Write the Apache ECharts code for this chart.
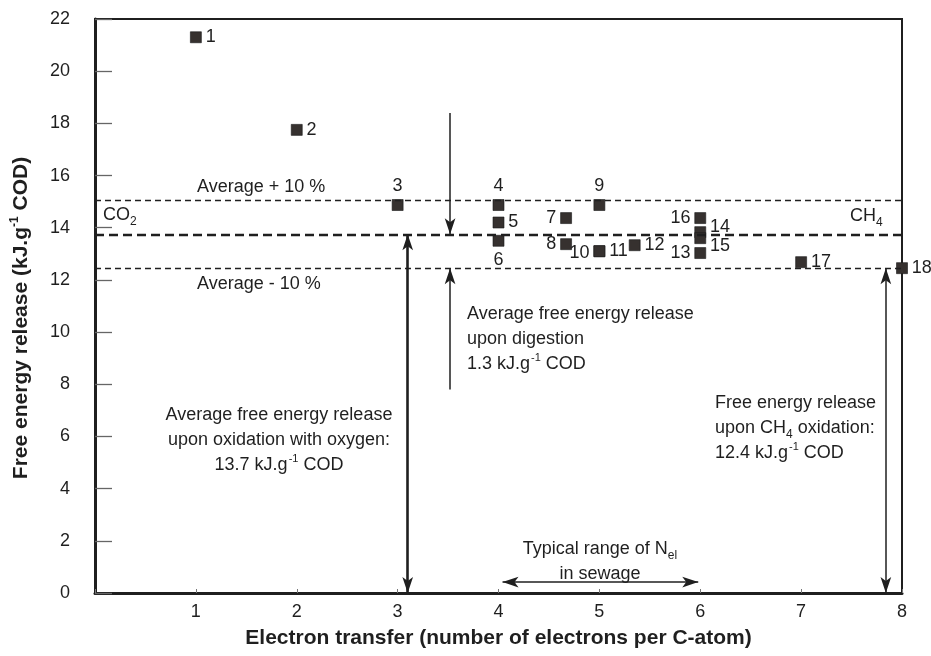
<!DOCTYPE html>
<html>
<head>
<meta charset="utf-8">
<title>Free energy release vs electron transfer</title>
<script src="https://cdn.jsdelivr.net/npm/echarts@6/dist/echarts.min.js"></script>
<style>
  html, body { margin: 0; padding: 0; background: #fff; }
  #chart { width: 931px; height: 656px; }
</style>
</head>
<body>
<div id="chart"></div>
<script>
// compounds, numbered as in the picture
const pointIds = [1, 2, 3, 4, 5, 6, 7, 8, 9, 10, 11, 12, 13, 14, 15, 16, 17, 18];
const electrons = [1, 2, 3, 4, 4, 4, 4.67, 4.67, 5, 5, 5, 5.35, 6, 6, 6, 6, 7, 8];
const energy = [21.3, 17.75, 14.87, 14.87, 14.2, 13.5, 14.37, 13.37, 14.87, 13.1, 13.1, 13.33, 13.03, 13.83, 13.6, 14.37, 12.68, 12.45];

const xTicks = [0, 1, 2, 3, 4, 5, 6, 7, 8];
const yTicks = [0, 2, 4, 6, 8, 10, 12, 14, 16, 18, 20, 22];

// reference levels (kJ/g COD)
const avgLevel = 13.75;
const upperLevel = 15.07;
const lowerLevel = 12.45;

// where each number sits next to its square
const labelSide = {
  1: 'right', 2: 'right', 3: 'top', 4: 'top', 5: 'right', 6: 'bottom',
  7: 'left', 8: 'left', 9: 'top', 10: 'left', 11: 'right', 12: 'right',
  13: 'left', 14: 'right', 15: 'right', 16: 'left', 17: 'right', 18: 'right'
};
const labelShift = { 14: [0, -5], 15: [0, 8], 10: [0, 2] };

const FONT = '"Liberation Sans", Arial, sans-serif';
const INK = '#1f1f1f';

const points = pointIds.map((id, i) => ({
  value: [electrons[i], energy[i]],
  label: {
    position: labelSide[id],
    offset: labelShift[id] || [0, 0]
  }
}));

const arrowHead = [8, 16];
const thin = { color: INK, width: 1.5, type: 'solid' };
const thick = { color: INK, width: 2.6, type: 'solid' };

function arrow(from, to, s1, s2, style) {
  return [
    { coord: from, symbol: s1, symbolSize: arrowHead, lineStyle: style },
    { coord: to, symbol: s2, symbolSize: arrowHead, lineStyle: style }
  ];
}

const rich = {
  t: { fontSize: 18, fontFamily: FONT, color: INK, lineHeight: 25 },
  sup: { fontSize: 11, fontFamily: FONT, color: INK, verticalAlign: 'top', lineHeight: 25, padding: [0, 0, 0, 1] },
  sub: { fontSize: 12, fontFamily: FONT, color: INK, verticalAlign: 'bottom', lineHeight: 20 }
};

function note(x, y, text, align) {
  return {
    type: 'text',
    x: x,
    y: y,
    silent: true,
    style: {
      text: text,
      rich: rich,
      align: align || 'left',
      verticalAlign: 'top',
      fill: INK,
      font: '18px ' + FONT
    }
  };
}

const chart = echarts.init(document.getElementById('chart'));

chart.setOption({
  animation: false,
  backgroundColor: '#fff',
  grid: {
    left: 95, right: 29, top: 19, bottom: 63,
    show: true, borderColor: INK, borderWidth: 2
  },
  xAxis: {
    type: 'value',
    min: 0, max: 8, interval: 1,
    splitLine: { show: false },
    axisLine: { onZero: false, lineStyle: { color: INK, width: 3 } },
    axisTick: { inside: true, length: 4, lineStyle: { color: '#777', width: 1 } },
    axisLabel: {
      fontSize: 18, fontFamily: FONT, color: INK, margin: 10,
      formatter: v => (v === 0 ? '' : String(v))
    },
    name: 'Electron transfer (number of electrons per C-atom)',
    nameLocation: 'middle',
    nameGap: 35,
    nameTextStyle: { fontSize: 21, fontWeight: 'bold', fontFamily: FONT, color: INK }
  },
  yAxis: {
    type: 'value',
    min: 0, max: 22, interval: 2,
    splitLine: { show: false },
    axisLine: { onZero: false, lineStyle: { color: INK, width: 3 } },
    axisTick: { inside: true, length: 17, lineStyle: { color: '#666', width: 1.3 } },
    axisLabel: { fontSize: 18, fontFamily: FONT, color: INK, margin: 25 },
    name: '{b|Free energy release (kJ.g}{s|-1}{b| COD)}',
    nameLocation: 'middle',
    nameGap: 62,
    nameRotate: 90,
    nameTextStyle: {
      padding: [0, 24, 0, 0],
      rich: {
        b: { fontSize: 21, fontWeight: 'bold', fontFamily: FONT, color: INK, lineHeight: 24 },
        s: { fontSize: 12, fontWeight: 'bold', fontFamily: FONT, color: INK, verticalAlign: 'top', lineHeight: 24 }
      }
    }
  },
  series: [{
    type: 'scatter',
    symbol: 'rect',
    symbolSize: 11,
    itemStyle: { color: '#36312f', borderColor: '#1a1a1a', borderWidth: 0.6, opacity: 1 },
    label: {
      show: true,
      formatter: p => String(pointIds[p.dataIndex]),
      fontSize: 18, fontFamily: FONT, color: INK, distance: 4
    },
    data: points,
    markLine: {
      silent: true,
      animation: false,
      label: { show: false },
      symbol: 'none',
      data: [
        { yAxis: upperLevel, lineStyle: { color: INK, width: 1.4, type: [6, 4] } },
        { yAxis: avgLevel, lineStyle: { color: INK, width: 2.4, type: [9, 5] } },
        { yAxis: lowerLevel, lineStyle: { color: INK, width: 1.4, type: [6, 4] } },
        arrow([3.52, 18.4], [3.52, avgLevel], 'none', 'arrow', thin),
        arrow([3.52, 7.8], [3.52, lowerLevel], 'none', 'arrow', thin),
        arrow([3.1, 0], [3.1, avgLevel], 'arrow', 'arrow', thick),
        arrow([7.84, 0], [7.84, lowerLevel], 'arrow', 'arrow', thin),
        arrow([4.04, 0.42], [5.98, 0.42], 'arrow', 'arrow', thin)
      ]
    }
  }],
  graphic: [
    note(197, 175, '{t|Average + 10 %}'),
    note(197, 272, '{t|Average - 10 %}'),
    note(103, 203, '{t|CO}{sub|2}'),
    note(850, 204, '{t|CH}{sub|4}'),
    note(467, 302, '{t|Average free energy release}\n{t|upon digestion}\n{t|1.3 kJ.g}{sup|-1}{t| COD}'),
    note(279, 403, '{t|Average free energy release}\n{t|upon oxidation with oxygen:}\n{t|13.7 kJ.g}{sup|-1}{t| COD}', 'center'),
    note(715, 391, '{t|Free energy release}\n{t|upon CH}{sub|4}{t| oxidation:}\n{t|12.4 kJ.g}{sup|-1}{t| COD}'),
    note(600, 537, '{t|Typical range of N}{sub|el}\n{t|in sewage}', 'center')
  ]
});
</script>
</body>
</html>
